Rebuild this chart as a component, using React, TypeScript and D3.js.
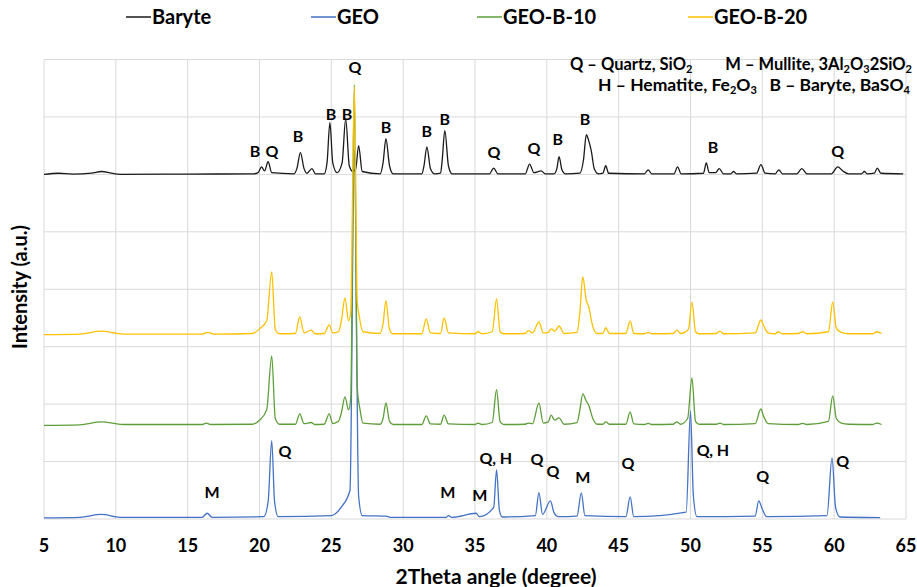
import React from "react";
import * as d3 from "d3";

// 2theta (degree) vs intensity (a.u., stacked offsets as in the original)
const baryte: [number, number][] = [
  [5, 6000], [6, 6020], [7, 6005], [8.3, 6020], [9.0, 6050], [9.7, 6020], [10.3, 6000], [15, 6005], [19.6, 6010],
  [19.9, 6030], [20.15, 6130], [20.35, 6060], [20.6, 6220], [20.85, 6030],
  [22.4, 6010], [22.6, 6100], [22.85, 6380], [23.1, 6100], [23.3, 6020], [23.65, 6100], [23.9, 6010],
  [24.5, 6010], [24.7, 6200], [24.9, 6900], [25.1, 6200], [25.4, 6030],
  [25.75, 6200], [26.0, 6970], [26.25, 6150], [26.5, 6050], [26.7, 6100], [26.9, 6500], [27.15, 6050],
  [28.4, 6010], [28.6, 6200], [28.8, 6620], [29.05, 6150], [29.3, 6010],
  [31.3, 6010], [31.45, 6150], [31.65, 6480], [31.9, 6100], [32.2, 6010],
  [32.6, 6020], [32.7, 6200], [32.9, 6760], [33.15, 6150], [33.4, 6010],
  [36.0, 6010], [36.3, 6110], [36.6, 6010],
  [38.5, 6010], [38.8, 6180], [39.1, 6030], [39.6, 6060], [39.9, 6010],
  [40.5, 6010], [40.7, 6100], [40.85, 6310], [41.05, 6080], [41.3, 6010],
  [42.3, 6020], [42.55, 6250], [42.75, 6690], [42.9, 6600], [43.1, 6400], [43.3, 6100], [43.6, 6010],
  [43.9, 6020], [44.1, 6150], [44.3, 6020],
  [46.8, 6010], [47.05, 6080], [47.3, 6010],
  [48.85, 6010], [49.1, 6130], [49.35, 6010],
  [50.9, 6020], [51.1, 6200], [51.3, 6030], [51.75, 6030], [52.0, 6100], [52.3, 6010],
  [52.8, 6010], [53.0, 6050], [53.2, 6010],
  [54.6, 6020], [54.9, 6170], [55.2, 6020],
  [55.9, 6010], [56.15, 6080], [56.4, 6010],
  [57.4, 6010], [57.75, 6100], [58.1, 6010],
  [59.8, 6010], [60.25, 6130], [60.6, 6060], [61, 6010],
  [61.9, 6010], [62.1, 6050], [62.3, 6010],
  [62.8, 6020], [63.0, 6110], [63.25, 6020], [64.8, 6010],
];

const geo: [number, number][] = [
  [5, 20], [7.5, 30], [9.0, 80], [10.3, 30], [16.0, 30], [16.36, 100], [16.7, 30],
  [20.3, 40], [20.6, 300], [20.85, 1365], [21.05, 300], [21.3, 40],
  [25.0, 60], [25.7, 210], [26.3, 500], [26.6, 6430], [26.9, 400], [27.15, 60],
  [28.8, 50], [29.1, 30], [33.0, 30], [33.15, 60], [33.4, 30], [35.08, 100], [35.3, 40],
  [36.3, 200], [36.5, 855], [36.7, 150], [36.9, 35],
  [39.2, 60], [39.45, 460], [39.7, 80], [40.25, 315], [40.5, 110], [40.8, 40],
  [42.1, 50], [42.4, 455], [42.65, 60],
  [45.5, 40], [45.8, 385], [46.05, 40],
  [49.7, 120], [50.0, 1880], [50.2, 400], [50.45, 40],
  [54.5, 50], [54.75, 315], [55.0, 170], [55.3, 40],
  [59.5, 60], [59.85, 1065], [60.1, 200], [60.4, 35], [63.2, 25],
];

const geoB10: [number, number][] = [
  [5, 1630], [7.5, 1640], [9.0, 1690], [10.5, 1645], [16.0, 1645], [16.3, 1670], [16.6, 1645],
  [19.5, 1650], [20.0, 1720], [20.5, 1900], [20.85, 2840], [21.1, 1750], [21.4, 1650],
  [22.5, 1650], [22.8, 1830], [23.1, 1660], [23.6, 1680], [23.85, 1645],
  [24.5, 1650], [24.85, 1830], [25.1, 1660], [25.5, 1700],
  [25.7, 1850], [25.95, 2125], [26.2, 1900], [26.35, 2100], [26.6, 7560], [26.8, 2300], [27.0, 1900], [27.2, 1670],
  [28.4, 1650], [28.6, 1750], [28.8, 2020], [29.05, 1700], [29.3, 1645],
  [31.3, 1645], [31.6, 1795], [31.9, 1655],
  [32.6, 1650], [32.85, 1810], [33.15, 1655],
  [35.0, 1645], [35.2, 1670], [35.5, 1645], [36.2, 1680], [36.5, 2250], [36.75, 1690], [37.0, 1645],
  [38.5, 1650], [38.7, 1670], [39.0, 1660], [39.45, 2020], [39.75, 1670],
  [40.1, 1690], [40.3, 1810], [40.55, 1720], [40.85, 1760], [41.2, 1650],
  [42.1, 1680], [42.3, 1900], [42.5, 2180], [42.75, 2050], [42.9, 1990], [43.2, 1750], [43.5, 1650],
  [43.9, 1650], [44.1, 1690], [44.35, 1650],
  [45.5, 1650], [45.8, 1865], [46.05, 1655],
  [46.8, 1645], [47.05, 1665], [47.3, 1645],
  [48.8, 1650], [49.05, 1690], [49.3, 1650],
  [49.8, 1750], [50.1, 2455], [50.35, 1700], [50.6, 1650],
  [51.8, 1650], [52.05, 1670], [52.3, 1645],
  [54.5, 1660], [54.9, 1915], [55.1, 1780], [55.4, 1660],
  [57.5, 1645], [57.8, 1665], [58.1, 1645],
  [59.6, 1700], [59.9, 2145], [60.15, 1750], [60.5, 1670], [61, 1650],
  [62.7, 1645], [62.95, 1670], [63.3, 1645],
];

const geoB20: [number, number][] = [
  [5, 3210], [7.5, 3220], [9.0, 3270], [10.5, 3220], [16.0, 3220], [16.4, 3250], [16.8, 3220],
  [19.5, 3230], [20.0, 3310], [20.5, 3450], [20.85, 4300], [21.1, 3300], [21.4, 3225],
  [22.5, 3230], [22.8, 3520], [23.1, 3240], [23.6, 3290], [23.85, 3225],
  [24.5, 3230], [24.85, 3380], [25.1, 3240], [25.5, 3260],
  [25.7, 3450], [25.95, 3850], [26.2, 3450], [26.35, 3600], [26.6, 7525], [26.8, 3800], [26.95, 3520], [27.2, 3260],
  [28.4, 3230], [28.6, 3400], [28.8, 3800], [29.05, 3300], [29.3, 3225],
  [31.3, 3225], [31.6, 3485], [31.9, 3240],
  [32.6, 3230], [32.85, 3500], [33.15, 3240],
  [35.0, 3225], [35.2, 3260], [35.5, 3225], [36.2, 3260], [36.5, 3830], [36.75, 3260], [37.0, 3225],
  [38.5, 3230], [38.7, 3280], [39.0, 3240], [39.45, 3430], [39.75, 3240],
  [40.1, 3250], [40.3, 3310], [40.55, 3270], [40.85, 3360], [41.2, 3230],
  [42.1, 3250], [42.3, 3600], [42.5, 4215], [42.75, 3800], [42.9, 3710], [43.2, 3350], [43.5, 3230],
  [43.9, 3230], [44.1, 3330], [44.35, 3230],
  [45.5, 3230], [45.8, 3450], [46.05, 3230],
  [46.8, 3225], [47.05, 3250], [47.3, 3225],
  [48.8, 3230], [49.05, 3290], [49.3, 3230],
  [49.85, 3300], [50.1, 3780], [50.35, 3260], [50.6, 3225],
  [51.8, 3230], [52.05, 3270], [52.3, 3225],
  [54.5, 3240], [54.9, 3465], [55.1, 3360], [55.4, 3240],
  [55.9, 3225], [56.1, 3260], [56.4, 3225],
  [57.5, 3230], [57.8, 3260], [58.1, 3225],
  [59.6, 3260], [59.9, 3780], [60.15, 3320], [60.5, 3250], [61, 3225],
  [62.7, 3225], [62.95, 3260], [63.3, 3230],
];

const seriesNames = ["Baryte", "GEO", "GEO-B-10", "GEO-B-20"];
const seriesColors = ["#1a1a1a", "#4472C4", "#5E9E3A", "#FFC000"];
const seriesData = [baryte, geo, geoB10, geoB20];

const xTicks = [5, 10, 15, 20, 25, 30, 35, 40, 45, 50, 55, 60, 65];
const yGrid = [0, 1000, 2000, 3000, 4000, 5000, 6000, 7000, 8000];

// phase labels: [2theta, intensity, text]
const phaseLabels: [number, number, string][] = [
  [19.68, 6306, "B"], [20.87, 6306, "Q"], [22.68, 6567, "B"], [24.97, 6950, "B"], [26.09, 6950, "B"],
  [26.64, 7769, "Q"], [28.8, 6724, "B"], [31.65, 6654, "B"], [32.9, 6863, "B"], [36.32, 6289, "Q"],
  [39.1, 6358, "Q"], [40.77, 6515, "B"], [42.65, 6863, "B"], [51.56, 6376, "B"], [60.25, 6306, "Q"],
  [16.69, 366, "M"], [21.77, 1080, "Q"], [33.11, 366, "M"], [35.34, 314, "M"], [36.45, 958, "Q, H"],
  [39.31, 941, "Q"], [40.42, 732, "Q"], [42.51, 627, "M"], [45.64, 871, "Q"], [51.56, 1097, "Q, H"],
  [55.03, 645, "Q"], [60.6, 906, "Q"],
];

const FONT = "Lato, 'Open Sans', sans-serif";

export default function App() {
  const W = 917, H = 587;
  const x = d3.scaleLinear().domain([5, 65]).range([44, 906]);
  const y = d3.scaleLinear().domain([0, 8000]).range([519, 59.5]);
  const line = d3.line<[number, number]>()
    .x(d => x(d[0]))
    .y(d => y(d[1]))
    .curve(d3.curveMonotoneX);

  const legendX = [126, 311, 477, 688];

  const sub = (t: string) => <tspan fontSize={11} dy={3}>{t}</tspan>;
  const up = (t: string) => <tspan dy={-3}>{t}</tspan>;

  return (
    <svg width={W} height={H} style={{ position: "fixed", left: 0, top: 0, background: "#fff" }}
      fontFamily={FONT} fontWeight="bold">
      {/* grid */}
      {xTicks.map(t => (
        <line key={"vx" + t} x1={x(t)} x2={x(t)} y1={y(8000)} y2={y(0)} stroke="#d9d9d9" strokeWidth={1} />
      ))}
      {yGrid.map(t => (
        <line key={"hy" + t} x1={x(5)} x2={x(65)} y1={y(t)} y2={y(t)} stroke="#d9d9d9" strokeWidth={1} />
      ))}

      {/* series */}
      {seriesData.map((s, i) => (
        <path key={seriesNames[i]} d={line(s) || ""} fill="none" stroke={seriesColors[i]}
          strokeWidth={1.3} strokeLinejoin="round" />
      ))}

      {/* phase labels */}
      {phaseLabels.map(([t, v, s], i) => (
        <text key={"pl" + i} x={x(t)} y={y(v)} textAnchor="middle" fontSize={16} fill="#000">{s}</text>
      ))}

      {/* phase legend */}
      <g fontSize={16.5} fill="#000">
        <text x={570} y={70}>Q – Quartz, SiO{sub("2")}</text>
        <text x={912} y={70} textAnchor="end">
          M – Mullite, 3Al{sub("2")}{up("O")}{sub("3")}{up("2SiO")}{sub("2")}
        </text>
        <text x={598} y={91} fontSize={17.5}>H – Hematite, Fe{sub("2")}{up("O")}{sub("3")}</text>
        <text x={910} y={91} textAnchor="end" fontSize={17.5}>B – Baryte, BaSO{sub("4")}</text>
      </g>

      {/* series legend */}
      {seriesNames.map((n, i) => (
        <g key={"lg" + n}>
          <line x1={legendX[i]} x2={legendX[i] + 25} y1={17} y2={17} stroke={seriesColors[i]} strokeWidth={1.5} />
          <text x={legendX[i] + 26} y={24} fontSize={20} fill="#000">{n}</text>
        </g>
      ))}

      {/* x tick labels */}
      {xTicks.map(t => (
        <text key={"xt" + t} x={x(t)} y={552} textAnchor="middle" fontSize={18} fill="#000">{t}</text>
      ))}
      <text x={496} y={584} textAnchor="middle" fontSize={21} fill="#000">2Theta angle (degree)</text>
      <text transform={`translate(27,${287}) rotate(-90)`} textAnchor="middle" fontSize={20} fill="#000">
        Intensity (a.u.)
      </text>
    </svg>
  );
}
